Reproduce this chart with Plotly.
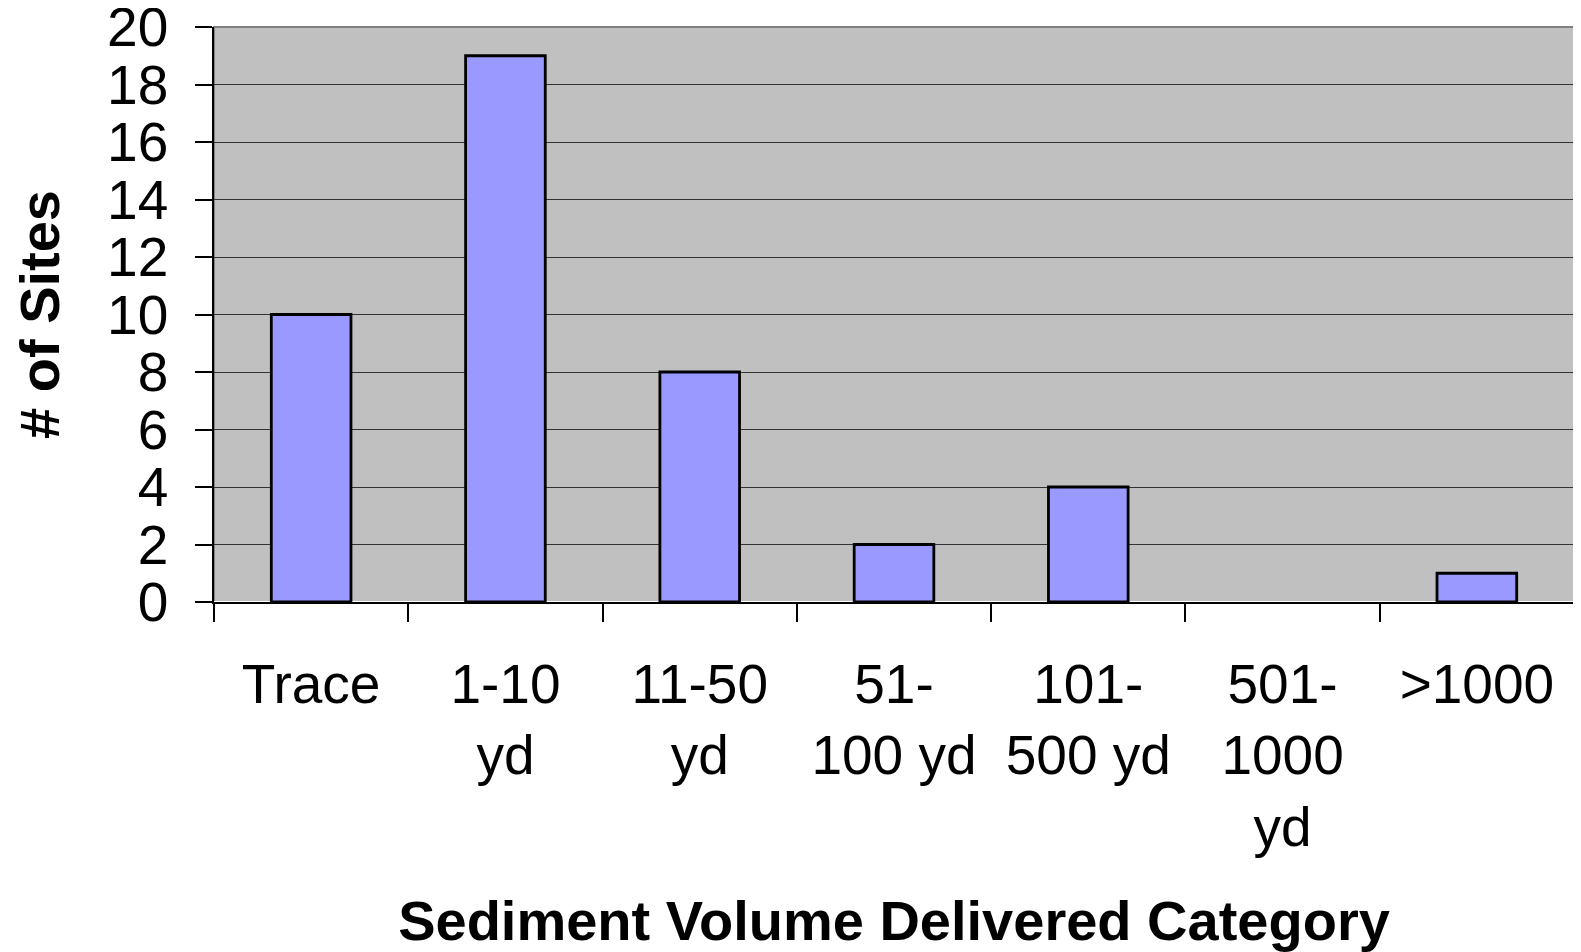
import plotly.graph_objects as go

# data
categories = ["Trace", "1-10<br>yd", "11-50<br>yd", "51-<br>100 yd", "101-<br>500 yd",
              "501-<br>1000<br>yd", ">1000"]
site_counts = [10, 19, 8, 2, 4, 0, 1]

font_family = "Liberation Sans, Arial, sans-serif"
tick_size = 55
title_size = 56

# no outline on empty categories
outline_widths = [2.8 if v > 0 else 0 for v in site_counts]

fig = go.Figure()

fig.add_trace(go.Bar(
    x=categories,
    y=site_counts,
    marker=dict(color="#9999FF", line=dict(color="black", width=outline_widths)),
    width=0.41,
    showlegend=False
))

# gray frame on top / right like the original
fig.add_shape(type="rect", xref="paper", yref="paper", x0=0, y0=0, x1=1, y1=1,
              line=dict(color="#808080", width=2), layer="below")

# page body has an 8px margin, so the div is shrunk by that amount
fig.update_layout(
    width=1573, height=944,
    margin=dict(l=206, r=7, t=19, b=350),
    plot_bgcolor="#C0C0C0",
    paper_bgcolor="white",
    font=dict(family=font_family, color="black", size=tick_size),
)

fig.update_xaxes(
    type="category",
    tickson="boundaries",
    ticks="outside", ticklen=18, tickwidth=1.5, tickcolor="black",
    showline=True, linecolor="black", linewidth=1.5,
    showgrid=False,
    tickfont=dict(size=tick_size),
    ticklabelstandoff=33,
    title=dict(text="<b>Sediment Volume Delivered Category</b>",
               font=dict(size=title_size), standoff=47),
    automargin=False,
)

fig.update_yaxes(
    range=[0, 20], dtick=2,
    ticks="outside", ticklen=17, tickwidth=1.5, tickcolor="black",
    showline=True, linecolor="black", linewidth=1.5,
    showgrid=True, gridcolor="#333333", gridwidth=1,
    tickfont=dict(size=tick_size),
    ticklabelstandoff=16,
    ticklabeloverflow="allow",
    title=dict(text="<b># of Sites</b>", font=dict(size=title_size), standoff=30),
    automargin=False,
)

fig.write_html("out.html")
